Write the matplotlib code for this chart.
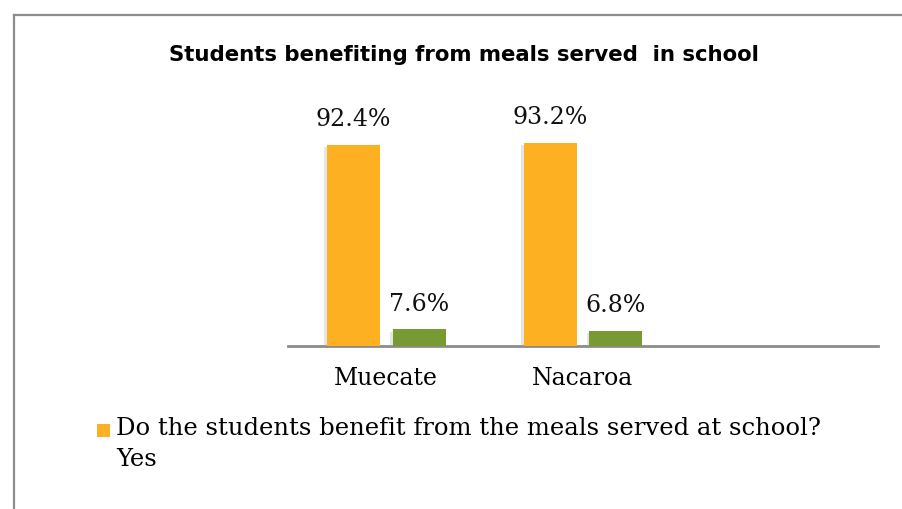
import matplotlib.pyplot as plt
import matplotlib.patheffects as pe
from matplotlib.patches import Rectangle
from matplotlib.lines import Line2D
import numpy as np

# ------------------------------
categories = ["Muecate", "Nacaroa"]
yes_vals = [92.4, 93.2]
no_vals = [7.6, 6.8]
title = "Students benefiting from meals served  in school"
legend_text = "Do the students benefit from the meals served at school?\nYes"

orange = "#FDB022"
green = "#779A32"
serif = ["DejaVu Serif"]
# ------------------------------

fig = plt.figure(figsize=(9.03, 5.09), dpi=100)
W, H = 903, 509

# outer chart frame (left and top edge visible)
fig.add_artist(Line2D([14 / W, 14 / W], [0, 1 - 15 / H], color="#8c8c8c", lw=1.6))
fig.add_artist(Line2D([14 / W, 1], [1 - 15 / H, 1 - 15 / H], color="#8c8c8c", lw=1.6))

ax = fig.add_axes([288 / W, 163 / H, 590 / W, 217.5 / H])

x = np.arange(len(categories))
bw = 0.27
off = 0.167
shadow = [pe.SimplePatchShadow(offset=(-2, -1.5), shadow_rgbFace="#aaaaaa", alpha=0.3), pe.Normal()]
b1 = ax.bar(x - off, yes_vals, bw, color=orange, path_effects=shadow, zorder=3)
b2 = ax.bar(x + off, no_vals, bw, color=green, path_effects=shadow, zorder=3)

for bars, vals in ((b1, yes_vals), (b2, no_vals)):
    for r, v in zip(bars, vals):
        ax.annotate(f"{v}%", (r.get_x() + r.get_width() / 2, r.get_height()),
                    xytext=(0, 10), textcoords="offset points", ha="center", va="bottom",
                    fontsize=17, family=serif, color="#111111")

ax.set_xlim(-0.5, 2.5)
ax.set_ylim(0, 100)
for s in ["top", "right", "left"]:
    ax.spines[s].set_visible(False)
ax.spines["bottom"].set_color("#8c8c8c")
ax.spines["bottom"].set_linewidth(2)
ax.set_yticks([])
ax.set_xticks(x)
ax.set_xticklabels(categories, fontsize=17, family=serif)
ax.tick_params(axis="x", length=0, pad=15)

fig.text(464 / W, 1 - 55 / H, title, ha="center", va="center", fontsize=15.3,
         fontweight="bold", family=["Liberation Sans Narrow", "DejaVu Sans"])

fig.add_artist(Rectangle((97 / W, 1 - 437 / H), 13 / W, 13 / H, transform=fig.transFigure,
                         color=orange, lw=0))
fig.text(116 / W, 1 - 417 / H, legend_text, ha="left", va="top", fontsize=17.5,
         family=serif, linespacing=1.45)

fig.savefig("out.png", dpi=100, facecolor="white")
